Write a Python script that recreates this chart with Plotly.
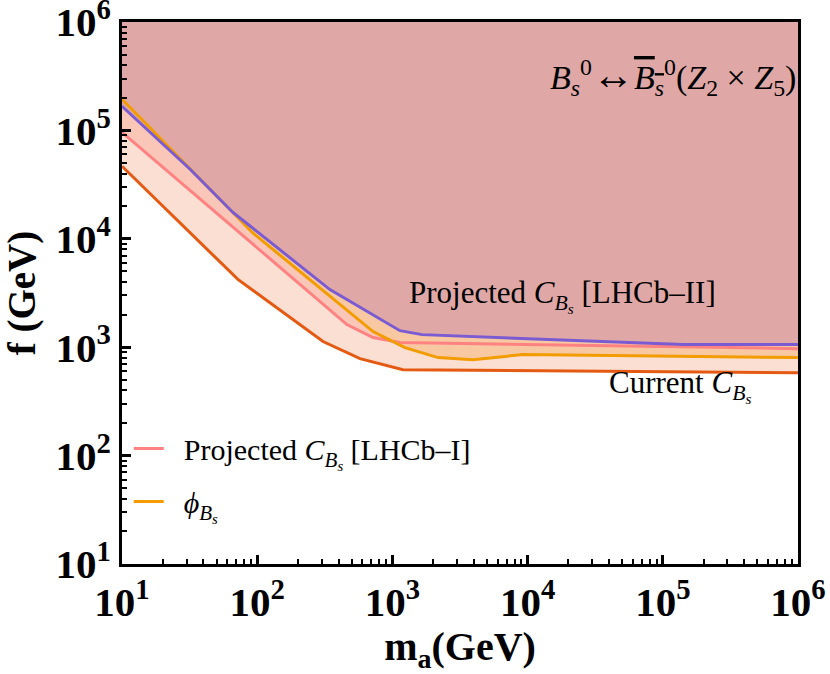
import plotly.graph_objects as go

# curves (m_a in GeV, f in GeV)
m_current = [10, 72, 307, 576, 1197, 1e6]
f_current = [46700, 4220, 1127, 785, 621, 582]

m_lhcb1 = [10, 461, 719, 1137, 1e6]
f_lhcb1 = [96000, 1618, 1227, 1104, 970]

m_phi = [10, 91.6, 719, 1239, 2173, 3944, 9245, 1e6]
f_phi = [194000, 11500, 1393, 991, 802, 768, 855, 802]

m_lhcb2 = [10, 31.9, 66.2, 345, 1137, 1655, 141000, 1e6]
f_lhcb2 = [167000, 43800, 17500, 3400, 1420, 1306, 1057, 1057]

tick_vals = [10, 100, 1000, 10000, 100000, 1000000]
tick_text = ["10<sup>1</sup>", "10<sup>2</sup>", "10<sup>3</sup>",
             "10<sup>4</sup>", "10<sup>5</sup>", "10<sup>6</sup>"]
minor_vals = [k * 10 ** e for e in range(1, 6) for k in range(2, 10)]

CB = "<i>C</i><sub><i>B<sub>s</sub></i></sub>"
SERIF = "Liberation Serif"

fig = go.Figure()

# filled regions (from each curve up to the top of the frame)
fills = [
    (m_current, f_current, "#FBDFD3"),
    (m_lhcb1, f_lhcb1, "#FAC6B8"),
    (m_phi, f_phi, "#F7C8A2"),
    (m_lhcb2, f_lhcb2, "#DFA8A7"),
]
for mx, fy, col in fills:
    fig.add_trace(go.Scatter(
        x=mx + [mx[-1], mx[0]], y=fy + [1e6, 1e6],
        fill="toself", fillcolor=col, mode="none",
        showlegend=False, hoverinfo="skip"))

fig.add_trace(go.Scatter(x=m_current, y=f_current, mode="lines",
                         line=dict(color="#E55A12", width=3), showlegend=False))
fig.add_trace(go.Scatter(x=m_lhcb1, y=f_lhcb1, mode="lines",
                         line=dict(color="#FF8282", width=3),
                         name="\u00a0\u00a0Projected " + CB + " [LHCb–I]", legendgroup="a"))
fig.add_trace(go.Scatter(x=m_phi, y=f_phi, mode="lines",
                         line=dict(color="#F29C00", width=3),
                         name="\u00a0\u00a0<i>ϕ</i><sub><i>B<sub>s</sub></i></sub>",
                         legendgroup="b"))
fig.add_trace(go.Scatter(x=m_lhcb2, y=f_lhcb2, mode="lines",
                         line=dict(color="#7B5BD2", width=3), showlegend=False))

fig.add_annotation(x=4.26, y=3.47, xref="x", yref="y", showarrow=False,
                   text="Projected " + CB + " [LHCb–II]",
                   font=dict(family=SERIF, size=31, color="black"))
fig.add_annotation(x=5.13, y=2.64, xref="x", yref="y", showarrow=False,
                   text="Current " + CB,
                   font=dict(family=SERIF, size=31, color="black"))
fig.add_annotation(x=1.0, y=0.948, xref="paper", yref="paper", xanchor="right",
                   showarrow=False,
                   text="<i>B<sub>s</sub></i><sup>0</sup><span style='font-size:42px'>↔</span>"
                        "<span style='text-decoration:overline'><i>B<sub>s</sub></i></span>"
                        "<sup>0</sup>(<i>Z</i><sub>2</sub> × <i>Z</i><sub>5</sub>)",
                   font=dict(family=SERIF, size=34, color="black"))

axis_common = dict(
    type="log", showgrid=False, zeroline=False, automargin=False,
    showline=True, linecolor="black", linewidth=3, mirror=True,
    ticks="inside", ticklen=9, tickwidth=2.5, tickcolor="black",
    tickvals=tick_vals, ticktext=tick_text, ticklabeloverflow="allow",
    tickfont=dict(family=SERIF, size=41, color="black", weight="bold"),
    minor=dict(ticks="inside", ticklen=5, tickwidth=2, tickcolor="black",
               tickvals=minor_vals),
    range=[1, 6],
)

fig.update_xaxes(**axis_common,
                 title=dict(text="m<sub>a</sub>(GeV)", standoff=12,
                            font=dict(family=SERIF, size=40, color="black", weight="bold")))
fig.update_yaxes(**axis_common,
                 title=dict(text="f (GeV)", standoff=14,
                            font=dict(family=SERIF, size=39, color="black", weight="bold")))

fig.update_layout(
    width=830, height=674,
    margin=dict(l=122, r=32, t=22, b=110),
    plot_bgcolor="white", paper_bgcolor="white",
    legend=dict(x=0.01, y=0.261, xanchor="left", yanchor="top",
                bgcolor="rgba(0,0,0,0)", tracegroupgap=11, itemwidth=30,
                font=dict(family=SERIF, size=30, color="black")),
)

# drop the default page margin so the 830x674 figure fills the window
fig.write_html("out.html", config={"displayModeBar": False},
               post_script="document.body.style.margin='0';"
                           "document.body.style.overflow='hidden';")
